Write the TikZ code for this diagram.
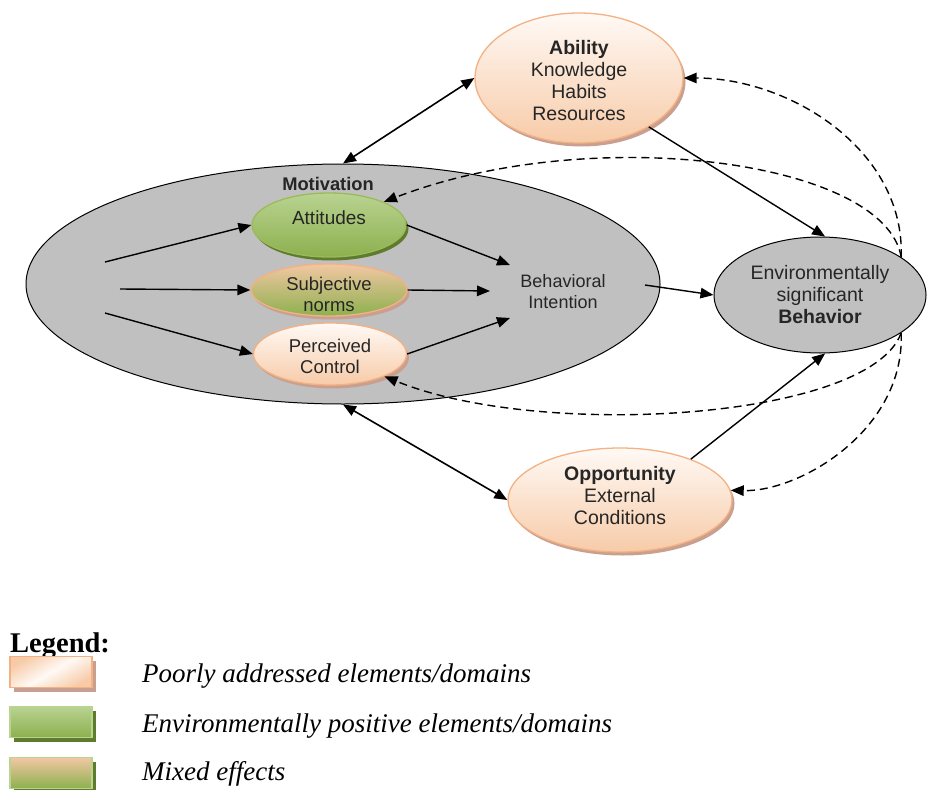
\documentclass[tikz,border=0pt]{standalone}
\usepackage{fontspec}
\setmainfont{Liberation Serif}
\newfontfamily\diagfont{Liberation Sans}
\usetikzlibrary{shapes.geometric,arrows.meta,shadows}

\definecolor{peachedge}{HTML}{F4B183}
\definecolor{peachlight}{HTML}{FFF9F5}
\definecolor{peachdark}{HTML}{F7CBA8}
\definecolor{peachshadow}{HTML}{C9A090}
\definecolor{greenedge}{HTML}{9BBB59}
\definecolor{greenlight}{HTML}{B9D391}
\definecolor{greendark}{HTML}{8DB04E}
\definecolor{greenshadow}{HTML}{5E7B2E}
\definecolor{mixtop}{HTML}{F2C7A3}
\definecolor{greyfill}{HTML}{C0C0C0}
\definecolor{textgrey}{HTML}{262626}

\tikzset{
  diagtext/.style={font=\diagfont\fontsize{18.5}{21}\selectfont, text=textgrey, align=center, inner sep=0pt},
  bigtext/.style={font=\diagfont\fontsize{19.5}{22}\selectfont},
  greybig/.style={ellipse, draw=black, line width=1pt, fill=greyfill, inner sep=0pt},
  peachnode/.style={ellipse, draw=peachedge, line width=1.3pt, top color=peachlight,
    bottom color=peachdark, inner sep=0pt,
    drop shadow={shadow xshift=2.5pt, shadow yshift=-3.5pt, fill=peachshadow, opacity=1}},
  greennode/.style={ellipse, draw=greenedge, line width=1.3pt, top color=greenlight,
    bottom color=greendark, inner sep=0pt,
    drop shadow={shadow xshift=2.5pt, shadow yshift=-3.5pt, fill=greenshadow, opacity=1}},
  mixnode/.style={ellipse, draw=peachedge, line width=1.3pt, top color=mixtop,
    bottom color=greendark, inner sep=0pt,
    drop shadow={shadow xshift=2.5pt, shadow yshift=-3.5pt, fill=peachshadow, opacity=1}},
  conn/.style={line width=1.4pt, -{Triangle[length=13pt,width=10.5pt]}},
  biconn/.style={line width=1.6pt, {Triangle[length=13pt,width=10.5pt]}-{Triangle[length=13pt,width=10.5pt]}},
  fb/.style={line width=1.4pt, dash pattern=on 8pt off 5pt, -{Triangle[length=13pt,width=10.5pt]}},
  legbox/.style={rectangle, minimum width=82pt, minimum height=31pt, inner sep=0pt, line width=1.5pt},
  legpeach/.style={legbox, draw=peachedge, left color=peachdark, right color=peachdark,
    middle color=peachlight, shading angle=30,
    drop shadow={shadow xshift=4pt, shadow yshift=-4pt, fill=peachshadow, opacity=1}},
  leggreen/.style={legbox, draw=greenlight, top color=greenlight, bottom color=greendark,
    drop shadow={shadow xshift=4pt, shadow yshift=-4pt, fill=greenshadow, opacity=1}},
  legmix/.style={legbox, draw=greenlight, top color=mixtop, bottom color=greendark,
    drop shadow={shadow xshift=4pt, shadow yshift=-4pt, fill=greenshadow, opacity=1}},
  legtext/.style={anchor=base west, font=\itshape\fontsize{27}{30}\selectfont, inner sep=0pt},
}

\begin{document}
\begin{tikzpicture}[x=1pt, y=-1pt]
\useasboundingbox[fill=white] (0,0) rectangle (928,789);

% outer grey ellipses
\node[greybig, minimum width=634pt, minimum height=240pt] (mot) at (343,284) {};
\node[greybig, minimum width=212pt, minimum height=116pt] (beh) at (820,295) {};
\node[diagtext, bigtext] (behtext) at (beh.center)
  {Environmentally\\significant\\\textbf{Behavior}};

% motivation components
\node[diagtext, font=\diagfont\bfseries\fontsize{18.3}{21}\selectfont] (motlab) at (328,184) {Motivation};
\node[greennode, minimum width=154pt, minimum height=64pt] (att) at (329,225) {};
\node[mixnode, minimum width=156pt, minimum height=52pt] (sn) at (329,290) {};
\node[peachnode, minimum width=153pt, minimum height=62pt] (pc) at (330,354) {};
\node[diagtext, font=\diagfont\fontsize{19}{21}\selectfont] (atttext) at (329,218) {Attitudes};
\node[diagtext] (sntext) at (329,294.5) {Subjective\\norms};
\node[diagtext] (pctext) at (330,356.5) {Perceived\\Control};
\node[diagtext, font=\diagfont\fontsize{18}{21}\selectfont] (bi) at (563,292) {Behavioral\\Intention};

% ability and opportunity
\node[peachnode, minimum width=208pt, minimum height=130pt] (abl) at (579,78) {};
\node[diagtext, bigtext] (abltext) at (579,81)
  {\textbf{Ability}\\Knowledge\\Habits\\Resources};
\node[peachnode, minimum width=224pt, minimum height=104pt] (opp) at (620,500) {};
\node[diagtext, bigtext] (opptext) at (620,496)
  {\textbf{Opportunity}\\External\\Conditions};

% free ends of the inner arrows
\coordinate (in1) at (105,262);
\coordinate (in2) at (120,289);
\coordinate (in3) at (105,313);
\coordinate (bi1) at (510,265);
\coordinate (bi2) at (490,291);
\coordinate (bi3) at (510,318);
\coordinate (biout) at (645,285);

% solid connectors
\draw[conn] (in1) -- (att.west);
\draw[conn] (in2) -- (sn.west);
\draw[conn] (in3) -- (pc.west);
\draw[conn] (att.east) -- (bi1);
\draw[conn] (sn.east) -- (bi2);
\draw[conn] (pc.east) -- (bi3);
\draw[conn] (biout) -- (beh.west);
\draw[conn] (abl.-35) -- (beh.85);
\draw[conn] (opp.30) -- (beh.-85);
\draw[biconn] (mot.north) -- (abl.west);
\draw[biconn] (mot.south) -- (opp.west);

% dashed feedback loops
\draw[fb] (beh.25) .. controls (905,150) and (790,78) .. (abl.east);
\draw[fb] (beh.25) .. controls (885,160) and (590,122) .. (att.north east);
\draw[fb] (beh.-25) .. controls (870,420) and (540,440) .. (pc.south east);
\draw[fb] (beh.-25) .. controls (905,430) and (800,492) .. (opp.5);

% legend
\node[anchor=base west, font=\bfseries\fontsize{28.5}{30}\selectfont, inner sep=0pt] (leg) at (10,652) {Legend:};
\node[legpeach] (lb1) at (51,672) {};
\node[leggreen] (lb2) at (51,722) {};
\node[legmix] (lb3) at (51,773) {};
\node[legtext] (lt1) at (142,682) {Poorly addressed elements/domains};
\node[legtext] (lt2) at (142,732) {Environmentally positive elements/domains};
\node[legtext] (lt3) at (142,780) {Mixed effects};
\end{tikzpicture}
\end{document}
